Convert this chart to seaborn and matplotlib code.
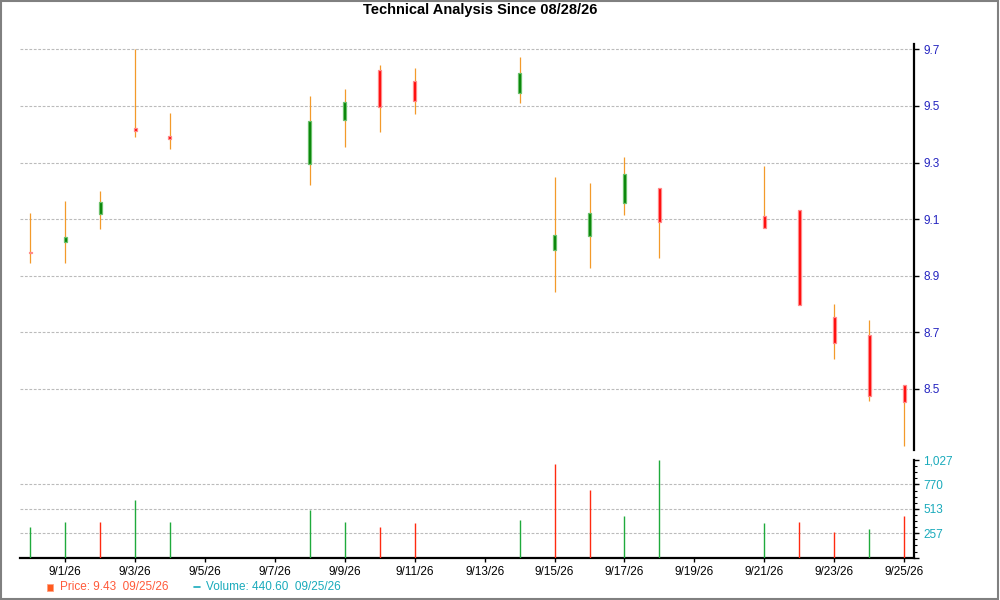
import numpy as np
import pandas as pd
import matplotlib
matplotlib.use("Agg")
import matplotlib.pyplot as plt
import matplotlib.dates as mdates
from matplotlib.ticker import FixedLocator, FuncFormatter, MultipleLocator
from matplotlib.patches import Rectangle
from matplotlib.lines import Line2D
import seaborn as sns

# ---------------- data ----------------
dates = ["2026-08-31", "2026-09-01", "2026-09-02", "2026-09-03", "2026-09-04",
         "2026-09-08", "2026-09-09", "2026-09-10", "2026-09-11", "2026-09-14",
         "2026-09-15", "2026-09-16", "2026-09-17", "2026-09-18", "2026-09-21",
         "2026-09-22", "2026-09-23", "2026-09-24", "2026-09-25"]
opens = [8.985, 9.018, 9.118, 9.423, 9.395, 9.294, 9.449, 9.626, 9.587, 9.546,
         8.991, 9.039, 9.157, 9.211, 9.112, 9.133, 8.753, 8.689, 8.513]
highs = [9.122, 9.164, 9.198, 9.700, 9.474, 9.535, 9.559, 9.645, 9.634, 9.672,
         9.249, 9.228, 9.320, 9.211, 9.288, 9.133, 8.800, 8.743, 8.513]
lows = [8.944, 8.944, 9.064, 9.391, 9.349, 9.222, 9.354, 9.409, 9.473, 9.511,
        8.844, 8.928, 9.113, 8.964, 9.069, 8.795, 8.607, 8.458, 8.299]
closes = [8.980, 9.036, 9.162, 9.412, 9.383, 9.446, 9.513, 9.495, 9.516, 9.615,
          9.045, 9.123, 9.260, 9.090, 9.069, 8.795, 8.661, 8.474, 8.453]
volumes = [322, 378, 378, 611, 378, 505, 378, 322, 367, 396,
           982, 717, 442, 1027, 367, 378, 272, 304, 440.6]
volume_dir = ["up", "up", "down", "up", "up", "up", "up", "down", "down", "up",
              "down", "down", "up", "up", "up", "down", "down", "up", "down"]
date_ticks = ["2026-09-01", "2026-09-03", "2026-09-05", "2026-09-07", "2026-09-09",
              "2026-09-11", "2026-09-13", "2026-09-15", "2026-09-17", "2026-09-19",
              "2026-09-21", "2026-09-23", "2026-09-25"]
price_ticks = [8.5, 8.7, 8.9, 9.1, 9.3, 9.5, 9.7]
volume_ticks = [0, 257, 513, 770, 1027]
title_text = "Technical Analysis Since 08/28/26"
price_legend = "Price: 9.43  09/25/26"
volume_legend = "Volume: 440.60  09/25/26"

df = pd.DataFrame({"date": pd.to_datetime(dates), "open": opens, "high": highs,
                   "low": lows, "close": closes, "volume": volumes, "vdir": volume_dir})

# ---------------- style ----------------
sns.set_theme(style="white")
plt.rcParams["font.family"] = ["Liberation Sans", "DejaVu Sans"]
plt.rcParams["font.size"] = 8

UP_BODY, UP_EDGE = "#008000", "#6cc06c"
DN_BODY, DN_EDGE = "#ff0000", "#ff8a8a"
WICK = "#f39a2a"
VOL_UP, VOL_DN = "#1faa3c", "#ff2a10"
PRICE_LBL = "#2424c0"
VOL_LBL = "#19aabb"
GRID = "#bbbbbb"

fig = plt.figure(figsize=(10, 6), dpi=100)
ax = fig.add_axes([0.02, 0.25, 0.8943, 0.6767])
axv = fig.add_axes([0.02, 0.0705, 0.8943, 0.1628], sharex=ax)

x = mdates.date2num(df["date"])
up = df["close"] >= df["open"]

# wicks
ax.vlines(x, df["low"], df["high"], color=WICK, linewidth=0.9, zorder=2)
# bodies
bw = 0.085
body_bottom = np.minimum(df["open"], df["close"])
body_h = np.abs(df["close"] - df["open"])
ax.bar(x[up], body_h[up], bottom=body_bottom[up], width=bw, color=UP_BODY,
       edgecolor=UP_EDGE, linewidth=0.9, zorder=3)
ax.bar(x[~up], body_h[~up], bottom=body_bottom[~up], width=bw, color=DN_BODY,
       edgecolor=DN_EDGE, linewidth=0.9, zorder=3)

# volume
vup = (df["vdir"] == "up").to_numpy()
axv.vlines(x[vup], 0, df["volume"][vup], color=VOL_UP, linewidth=1.0, zorder=3)
axv.vlines(x[~vup], 0, df["volume"][~vup], color=VOL_DN, linewidth=1.0, zorder=3)

pad = 0.29
ax.set_xlim(x[0] - pad, x[-1] + pad)
ax.set_ylim(8.284, 9.719)
axv.set_ylim(0, 1027)

# price axis
for s in ["left", "top", "bottom"]:
    ax.spines[s].set_visible(False)
ax.spines["right"].set_visible(True)
ax.spines["right"].set_color("black")
ax.spines["right"].set_linewidth(1.6)
ax.yaxis.tick_right()
ax.yaxis.set_major_locator(FixedLocator(price_ticks))
ax.yaxis.set_major_formatter(FuncFormatter(lambda v, p: f"{v:.1f}"))
ax.tick_params(axis="y", which="major", right=True, left=False, length=3.5, width=1,
               color="black", pad=3, labelcolor=PRICE_LBL, labelsize=8.5)
ax.tick_params(axis="x", bottom=False, labelbottom=False)
for t in price_ticks:
    ax.axhline(t, color=GRID, linewidth=0.8, linestyle=(0, (2.5, 1.5)), zorder=1)
ax.grid(False)

# volume axis
for s in ["left", "top"]:
    axv.spines[s].set_visible(False)
for s in ["right", "bottom"]:
    axv.spines[s].set_visible(True)
    axv.spines[s].set_color("black")
    axv.spines[s].set_linewidth(1.6)
axv.yaxis.tick_right()
axv.yaxis.set_major_locator(FixedLocator(volume_ticks))
axv.yaxis.set_minor_locator(MultipleLocator(1027 / 16))
axv.yaxis.set_major_formatter(FuncFormatter(lambda v, p: "" if v == 0 else f"{int(round(v)):,}"))
axv.tick_params(axis="y", which="major", right=True, left=False, length=3.5, width=1,
                color="black", pad=3, labelcolor=VOL_LBL, labelsize=8.5)
axv.tick_params(axis="y", which="minor", right=True, left=False, length=2.5, width=0.8,
                color="black")
for t in volume_ticks[1:-1]:
    axv.axhline(t, color=GRID, linewidth=0.8, linestyle=(0, (2.5, 1.5)), zorder=1)
axv.grid(False)

tick_x = mdates.date2num(pd.to_datetime(date_ticks))
axv.xaxis.set_major_locator(FixedLocator(tick_x))
axv.xaxis.set_major_formatter(FuncFormatter(
    lambda v, p: (lambda d: f"{d.month}/{d.day}/{d.strftime('%y')}")(mdates.num2date(v))))
axv.tick_params(axis="x", which="major", bottom=True, length=3, width=1, color="black",
                pad=3, labelcolor="black", labelsize=8.5)
ax.set_xlim(x[0] - pad, x[-1] + pad)

# title
fig.text(0.48, 0.983, title_text, ha="center", va="center", fontsize=10.5,
         fontweight="bold", color="black")

# legend
fig.patches.append(Rectangle((0.0467, 1 - 590.5 / 600), 0.006, 7 / 600,
                             transform=fig.transFigure, facecolor="#ff5a1e",
                             edgecolor="#ffa080", linewidth=0.6))
fig.text(0.060, 1 - 587 / 600, price_legend, ha="left", va="center", fontsize=8.5,
         color="#ff5a3a")
fig.lines.append(Line2D([0.1935, 0.1995], [1 - 586.5 / 600] * 2, transform=fig.transFigure,
                        color=VOL_LBL, linewidth=1.2))
fig.text(0.206, 1 - 587 / 600, volume_legend, ha="left", va="center", fontsize=8.5,
         color=VOL_LBL)

# outer border
fig.patches.append(Rectangle((0.001, 0.002), 0.997, 0.996, transform=fig.transFigure,
                             facecolor="none", edgecolor="#808080", linewidth=1.5))

fig.savefig("out.png", dpi=100)
